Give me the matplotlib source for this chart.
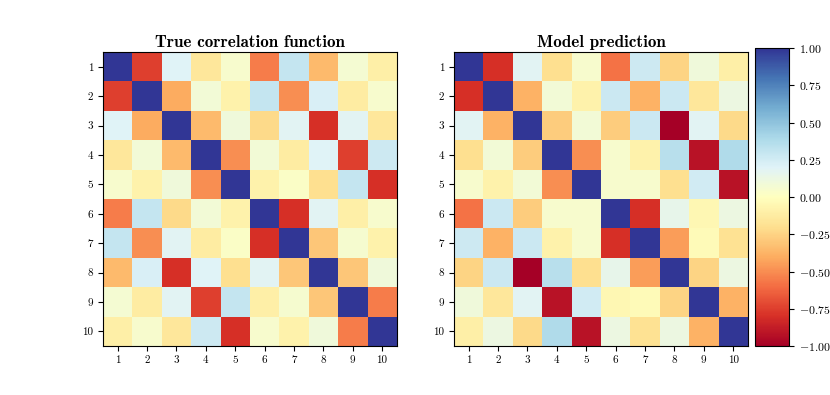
import matplotlib
matplotlib.use('Agg')
import matplotlib.pyplot as plt
import numpy as np

plt.rcParams['font.family'] = ['cmr10', 'DejaVu Serif']
plt.rcParams['mathtext.fontset'] = 'cm'
plt.rcParams['axes.unicode_minus'] = False

labels = [str(i) for i in range(1, 11)]

true_corr = [
    [1.00, -0.75, 0.20, -0.15, 0.05, -0.55, 0.30, -0.35, 0.07, -0.10],
    [-0.75, 1.00, -0.40, 0.08, -0.08, 0.30, -0.50, 0.22, -0.12, 0.05],
    [0.20, -0.40, 1.00, -0.35, 0.10, -0.22, 0.18, -0.80, 0.18, -0.15],
    [-0.15, 0.08, -0.35, 1.00, -0.50, 0.08, -0.12, 0.20, -0.75, 0.27],
    [0.05, -0.08, 0.10, -0.50, 1.00, -0.08, 0.03, -0.20, 0.30, -0.80],
    [-0.55, 0.30, -0.22, 0.08, -0.08, 1.00, -0.80, 0.18, -0.10, 0.05],
    [0.30, -0.50, 0.18, -0.12, 0.03, -0.80, 1.00, -0.30, 0.06, -0.08],
    [-0.35, 0.22, -0.80, 0.20, -0.20, 0.18, -0.30, 1.00, -0.30, 0.10],
    [0.07, -0.12, 0.18, -0.75, 0.30, -0.10, 0.06, -0.30, 1.00, -0.55],
    [-0.10, 0.05, -0.15, 0.27, -0.80, 0.05, -0.08, 0.10, -0.55, 1.00],
]

model_corr = [
    [1.00, -0.80, 0.18, -0.20, 0.05, -0.58, 0.27, -0.25, 0.10, -0.10],
    [-0.80, 1.00, -0.38, 0.08, -0.08, 0.28, -0.38, 0.28, -0.15, 0.12],
    [0.18, -0.38, 1.00, -0.28, 0.08, -0.28, 0.28, -1.00, 0.18, -0.22],
    [-0.20, 0.08, -0.28, 1.00, -0.50, 0.05, -0.08, 0.35, -0.92, 0.38],
    [0.05, -0.08, 0.08, -0.50, 1.00, 0.05, 0.05, -0.20, 0.25, -0.92],
    [-0.58, 0.28, -0.28, 0.05, 0.05, 1.00, -0.80, 0.15, -0.05, 0.12],
    [0.27, -0.38, 0.28, -0.08, 0.05, -0.80, 1.00, -0.45, -0.03, -0.18],
    [-0.25, 0.28, -1.00, 0.35, -0.20, 0.15, -0.45, 1.00, -0.25, 0.12],
    [0.10, -0.15, 0.18, -0.92, 0.25, -0.05, -0.03, -0.25, 1.00, -0.38],
    [-0.10, 0.12, -0.22, 0.38, -0.92, 0.12, -0.18, 0.12, -0.38, 1.00],
]

cbar_ticks = [-1.0, -0.75, -0.5, -0.25, 0.0, 0.25, 0.5, 0.75, 1.0]

fig = plt.figure(figsize=(8.3, 3.95), dpi=100)
ax1 = fig.add_axes([0.124, 0.124, 0.354, 0.744])
ax2 = fig.add_axes([0.547, 0.124, 0.354, 0.744])
cax = fig.add_axes([0.910, 0.124, 0.041, 0.754])

for ax, mat, title in [(ax1, true_corr, 'True correlation function'),
                       (ax2, model_corr, 'Model prediction')]:
    im = ax.imshow(np.array(mat), cmap='RdYlBu', vmin=-1, vmax=1, aspect='auto')
    ax.set_xticks(range(10))
    ax.set_yticks(range(10))
    ax.set_xticklabels(labels, fontsize=8)
    ax.set_yticklabels(labels, fontsize=8)
    ax.set_title(title, fontsize=12.3, family=['cmb10', 'DejaVu Serif'], pad=4)

cb = fig.colorbar(im, cax=cax)
cb.set_ticks(cbar_ticks)
cb.set_ticklabels(['$%.2f$' % v for v in cbar_ticks])
cb.ax.tick_params(labelsize=8.5)

fig.savefig('out.png', dpi=100)
